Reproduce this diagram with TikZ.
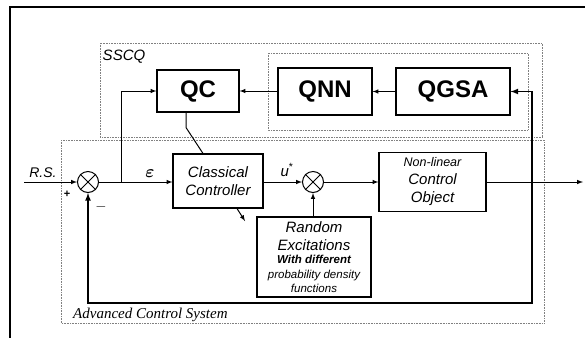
\documentclass[tikz,border=0pt]{standalone}
\usepackage{fontspec}
\setmainfont{Liberation Sans}
\newfontfamily\acsfont{Liberation Serif}
\begin{document}
\begin{tikzpicture}[x=1pt, y=-1pt, >=latex,
    block/.style={draw=black, line width=1.1pt, inner sep=0pt, align=center},
    qblock/.style={block, font=\fontsize{24}{28}\selectfont\bfseries},
    textblock/.style={block, font=\fontsize{15}{18}\selectfont\itshape},
    summer/.style={circle, draw=black, line width=1pt, minimum size=21pt, inner sep=0pt},
    region/.style={draw=gray, densely dotted, line width=0.6pt},
    wire/.style={line width=1pt},
    fbwire/.style={line width=1.6pt},
    lbl/.style={inner sep=0pt, font=\fontsize{14}{17}\selectfont\itshape}]
    \useasboundingbox (0,0) rectangle (585,338);
    \draw[line width=2pt] (585,7) -- (10,7) -- (10,338);

    \draw[region] (100,43) rectangle (542,137);
    \draw[region] (268,53) rectangle (528,130);
    \draw[region] (61,140) rectangle (544,323);
    \node[lbl, font=\fontsize{15}{18}\selectfont\itshape] (sscq) at (124,57) {SSCQ};
    \node[inner sep=0pt, anchor=west, font=\fontsize{15}{18}\selectfont\acsfont\itshape] (acs) at (73,315) {Advanced Control System};

    \node[qblock, minimum width=82pt, minimum height=42pt]  (qc)   at (198,91)   {QC};
    \node[qblock, minimum width=94pt, minimum height=47pt]  (qnn)  at (325,91.5) {QNN};
    \node[qblock, minimum width=114pt, minimum height=47pt] (qgsa) at (453,91.5) {QGSA};

    \node[summer] (sum1) at (88,182) {};
    \node[summer] (sum2) at (313,182) {};
    \draw[wire] (sum1.north west) -- (sum1.south east) (sum1.north east) -- (sum1.south west);
    \draw[wire] (sum2.north west) -- (sum2.south east) (sum2.north east) -- (sum2.south west);

    \node[textblock, minimum width=90pt, minimum height=54pt] (cc) at (218,181) {Classical\\Controller};
    \node[textblock, minimum width=107pt, minimum height=59pt] (nco) at (432.5,182)
        {{\fontsize{12.5}{15}\selectfont Non-linear}\\Control\\Object};
    \node[textblock, minimum width=114pt, minimum height=80pt] (rex) at (314,257)
        {Random\\Excitations\\[-5pt]{\fontsize{11.5}{14}\selectfont\bfseries With different}\\[-3pt]
         {\fontsize{11.5}{14}\selectfont probability density}\\[-4pt]{\fontsize{11.5}{14}\selectfont functions}};

    \coordinate (rs)  at (24,182);
    \coordinate (br)  at (121,182);
    \coordinate (out) at (583,182);
    \coordinate (fb)  at (532,182);
    \coordinate (fbb) at (532,303);
    \coordinate (exc) at (245,221);

    \node[lbl] (rslbl) at (43,173) {R.S.};
    \node[inner sep=0pt, font=\fontsize{11}{13}\selectfont\bfseries] (plus) at (67,194) {+};
    \node[inner sep=0pt, font=\fontsize{15}{18}\selectfont] (minus) at (101,207) {$\mathbf{-}$};
    \node[inner sep=0pt, font=\fontsize{19}{22}\selectfont\boldmath] (eps) at (150,174) {$\varepsilon$};
    \node[lbl, font=\fontsize{15}{18}\selectfont\itshape] (ustar) at (287,170) {u\textsuperscript{\upshape *}};

    \draw[wire,->] (rs) -- (sum1.west);
    \draw[wire,->] (sum1.east) -- (sum1.east -| cc.west);
    \draw[wire,->] (br) |- (qc.west);
    \draw[wire,->] (qgsa.west) -- (qnn.east);
    \draw[wire,->] (qnn.west |- qc.east) -- (qc.east);
    \draw[wire] ([xshift=-12pt]qc.south) -- ++(0,15) -- ([xshift=-15pt]cc.north);
    \draw[wire,->] ([xshift=19pt]cc.south) -- (exc);
    \draw[wire,->] (sum2.west -| cc.east) -- (sum2.west);
    \draw[wire,->] (rex.north -| sum2.south) -- (sum2.south);
    \draw[wire,->] (sum2.east) -- (sum2.east -| nco.west);
    \draw[wire,->] (nco.east |- out) -- (out);
    \draw[fbwire,->] (fb) |- (qgsa.east);
    \draw[fbwire,->] (fb) -- (fbb) -| (sum1.south);
\end{tikzpicture}
\end{document}
